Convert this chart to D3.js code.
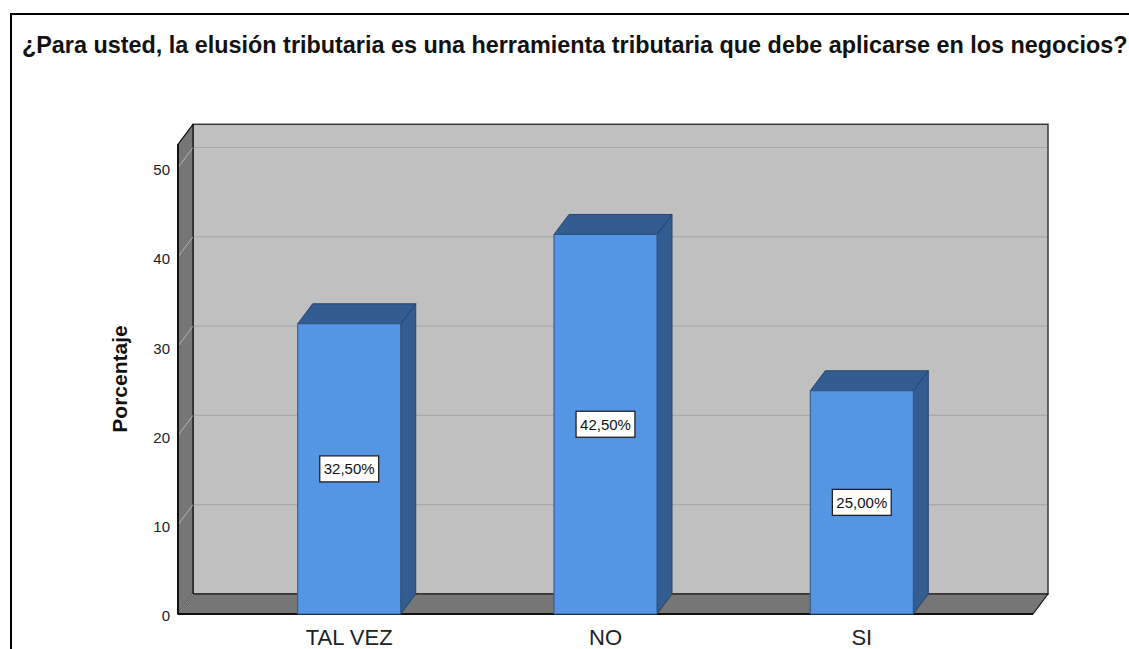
<!DOCTYPE html>
<html>
<head>
<meta charset="utf-8">
<script src="https://cdn.jsdelivr.net/npm/d3@7"></script>
<style>
  body { margin: 0; background: #fff; }
  svg { display: block; font-family: Arial, "Liberation Sans", sans-serif; }
</style>
</head>
<body>
<svg id="chart" width="1129" height="649"></svg>
<script>
//////////////////////////////////////////////////////////////////////////////
// Data
//////////////////////////////////////////////////////////////////////////////

var categories = ['TAL VEZ', 'NO', 'SI']
var percentages = [32.5, 42.5, 25.0]
var y_ticks = [0, 10, 20, 30, 40, 50]
var title = '¿Para usted, la elusión tributaria es una herramienta tributaria que debe aplicarse en los negocios?'
var y_title = 'Porcentaje'

//////////////////////////////////////////////////////////////////////////////
// Layout
//////////////////////////////////////////////////////////////////////////////

var svg = d3.select('#chart')

// front plane of the 3d box, depth goes up-right
var front_left = 178, front_right = 1033, front_bottom = 614
var depth_x = 15, depth_y = -20

var y = d3.scaleLinear().domain([0, 50]).range([front_bottom, 167.5])
var y_top = 52.6   // top of the walls

var x = d3.scaleBand()
  .domain(categories)
  .range([front_left, front_right])
  .paddingInner(0.598)
  .paddingOuter(0.467)

function pts(list) { return list.map(function(p) { return p.join(',') }).join(' ') }

//////////////////////////////////////////////////////////////////////////////
// Frame and title
//////////////////////////////////////////////////////////////////////////////

svg.append('path')
  .attr('d', 'M11,660 L11,14 L1140,14')
  .attr('fill', 'none')
  .attr('stroke', '#000')
  .attr('stroke-width', 2)

var title_text = svg.append('text')
  .attr('x', 22)
  .attr('y', 53)
  .attr('font-weight', 'bold')
  .attr('font-size', 16)
  .attr('fill', '#111')
  .text(title)

// fit the title to the reference width
var tw = title_text.node().getComputedTextLength()
title_text.attr('font-size', 16 * 1106 / tw)

//////////////////////////////////////////////////////////////////////////////
// 3d box: back wall, left wall, floor
//////////////////////////////////////////////////////////////////////////////

var bx0 = front_left + depth_x, bx1 = front_right + depth_x
var by0 = y(0) + depth_y, by1 = y(y_top) + depth_y

svg.append('rect')
  .attr('x', bx0).attr('y', by1)
  .attr('width', bx1 - bx0).attr('height', by0 - by1)
  .attr('fill', '#c0c0c0')
  .attr('stroke', '#3a3a3a')
  .attr('stroke-width', 1.5)

// back wall grid lines
svg.append('g').selectAll('line')
  .data(y_ticks.filter(function(d) { return d > 0 }))
  .join('line')
  .attr('x1', bx0 + 1).attr('x2', bx1 - 1)
  .attr('y1', function(d) { return y(d) + depth_y })
  .attr('y2', function(d) { return y(d) + depth_y })
  .attr('stroke', '#a9a9a9')
  .attr('stroke-width', 1.2)

// left wall
svg.append('polygon')
  .attr('points', pts([
    [front_left, y(0)], [bx0, by0], [bx0, by1], [front_left, y(y_top)]
  ]))
  .attr('fill', '#767676')
  .attr('stroke', '#111')
  .attr('stroke-width', 1.2)
  .attr('stroke-linejoin', 'round')

// floor
svg.append('polygon')
  .attr('points', pts([
    [front_left, y(0)], [front_right, y(0)], [bx1, by0], [bx0, by0]
  ]))
  .attr('fill', '#767676')
  .attr('stroke', '#111')
  .attr('stroke-width', 1.2)
  .attr('stroke-linejoin', 'round')

// grid connectors on the left wall
svg.append('g').selectAll('line')
  .data(y_ticks)
  .join('line')
  .attr('x1', front_left).attr('x2', bx0)
  .attr('y1', function(d) { return y(d) })
  .attr('y2', function(d) { return y(d) + depth_y })
  .attr('stroke', '#b4b4b4')
  .attr('stroke-width', 1)

// front edges
svg.append('line')
  .attr('x1', front_left).attr('x2', front_right)
  .attr('y1', y(0)).attr('y2', y(0))
  .attr('stroke', '#111').attr('stroke-width', 2)
svg.append('line')
  .attr('x1', front_left).attr('x2', front_left)
  .attr('y1', y(0)).attr('y2', y(y_top))
  .attr('stroke', '#111').attr('stroke-width', 2)

//////////////////////////////////////////////////////////////////////////////
// Bars
//////////////////////////////////////////////////////////////////////////////

var bars = svg.append('g').selectAll('g')
  .data(categories.map(function(c, i) { return { cat: c, val: percentages[i] } }))
  .join('g')

bars.append('polygon')   // side
  .attr('points', function(d) {
    var r = x(d.cat) + x.bandwidth()
    return pts([[r, y(0)], [r + depth_x, y(0) + depth_y],
                [r + depth_x, y(d.val) + depth_y], [r, y(d.val)]])
  })
  .attr('fill', '#335c90')
  .attr('stroke', '#27466f')
  .attr('stroke-width', 1)

bars.append('polygon')   // top
  .attr('points', function(d) {
    var l = x(d.cat), r = l + x.bandwidth(), t = y(d.val)
    return pts([[l, t], [r, t], [r + depth_x, t + depth_y], [l + depth_x, t + depth_y]])
  })
  .attr('fill', '#335c90')
  .attr('stroke', '#27466f')
  .attr('stroke-width', 1)

bars.append('rect')      // front
  .attr('x', function(d) { return x(d.cat) })
  .attr('y', function(d) { return y(d.val) })
  .attr('width', x.bandwidth())
  .attr('height', function(d) { return y(0) - y(d.val) })
  .attr('fill', '#5495e5')
  .attr('stroke', '#2f5585')
  .attr('stroke-width', 1)

// value labels
var fmt = function(v) { return d3.format('.2f')(v).replace('.', ',') + '%' }

bars.each(function(d) {
  var g = d3.select(this)
  var cx = x(d.cat) + x.bandwidth() / 2
  var cy = (y(0) + y(d.val)) / 2
  var box = g.append('rect')
  var t = g.append('text')
    .attr('x', cx).attr('y', cy)
    .attr('dy', '0.36em')
    .attr('text-anchor', 'middle')
    .attr('font-size', 15)
    .attr('fill', '#111')
    .text(fmt(d.val))
  var w = t.node().getComputedTextLength() + 8
  box.attr('x', cx - w / 2).attr('y', cy - 13)
    .attr('width', w).attr('height', 26)
    .attr('fill', '#fff')
    .attr('stroke', '#222')
    .attr('stroke-width', 1.3)
})

//////////////////////////////////////////////////////////////////////////////
// Axis labels
//////////////////////////////////////////////////////////////////////////////

svg.append('g').selectAll('text')
  .data(y_ticks)
  .join('text')
  .attr('x', 170)
  .attr('y', function(d) { return y(d) + 2 })
  .attr('dy', '0.36em')
  .attr('text-anchor', 'end')
  .attr('font-size', 15)
  .attr('fill', '#222')
  .text(function(d) { return d })

svg.append('g').selectAll('text')
  .data(categories)
  .join('text')
  .attr('x', function(d) { return x(d) + x.bandwidth() / 2 })
  .attr('y', 645)
  .attr('text-anchor', 'middle')
  .attr('font-size', 22)
  .attr('fill', '#222')
  .text(function(d) { return d })

svg.append('text')
  .attr('transform', 'translate(127,379) rotate(-90)')
  .attr('text-anchor', 'middle')
  .attr('font-weight', 'bold')
  .attr('font-size', 21)
  .attr('fill', '#111')
  .text(y_title)
</script>
</body>
</html>
